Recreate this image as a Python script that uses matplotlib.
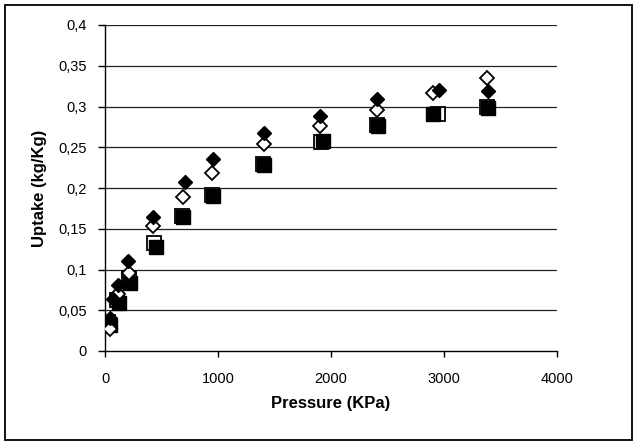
import matplotlib
matplotlib.use('Agg')
import matplotlib.pyplot as plt
from matplotlib.patches import Rectangle
from matplotlib.ticker import FuncFormatter

plt.rcParams['font.family'] = ['Liberation Sans', 'DejaVu Sans']

# Pressure (KPa) / uptake (kg/Kg) for the four series
p_d_fill = [40, 70, 115, 205, 425, 710, 960, 1410, 1900, 2410, 2960, 3390]
u_d_fill = [0.040, 0.064, 0.081, 0.110, 0.165, 0.207, 0.235, 0.268, 0.288, 0.309, 0.320, 0.319]

p_d_open = [40, 115, 210, 425, 690, 950, 1410, 1900, 2410, 2900, 3380]
u_d_open = [0.027, 0.070, 0.096, 0.153, 0.189, 0.219, 0.254, 0.276, 0.296, 0.316, 0.335]

p_s_fill = [40, 120, 225, 450, 690, 955, 1410, 1930, 2420, 2900, 3390]
u_s_fill = [0.032, 0.059, 0.083, 0.128, 0.164, 0.190, 0.228, 0.258, 0.276, 0.291, 0.298]

p_s_open = [30, 110, 215, 430, 680, 945, 1400, 1910, 2410, 2945, 3380]
u_s_open = [0.036, 0.063, 0.090, 0.133, 0.166, 0.192, 0.229, 0.256, 0.277, 0.291, 0.299]

x_ticks = [0, 1000, 2000, 3000, 4000]
y_ticks = [0, 0.05, 0.1, 0.15, 0.2, 0.25, 0.3, 0.35, 0.4]

fig = plt.figure(figsize=(6.37, 4.45), dpi=100)
ax = fig.add_axes([105 / 637, 94 / 445, 452 / 637, 326 / 445])

# linhas horizontais
for yv in y_ticks[1:]:
    ax.axhline(yv, color='#222222', lw=0.9, zorder=0)

ax.plot(p_s_open, u_s_open, 's', ms=10, mfc='white', mec='black', mew=1.3, ls='none', zorder=2)
ax.plot(p_s_fill, u_s_fill, 's', ms=10, mfc='black', mec='black', mew=1.0, ls='none', zorder=3)
ax.plot(p_d_open, u_d_open, 'D', ms=7.5, mfc='white', mec='black', mew=1.3, ls='none', zorder=4)
ax.plot(p_d_fill, u_d_fill, 'D', ms=7.5, mfc='black', mec='black', mew=1.0, ls='none', zorder=5)

ax.set_xlim(0, 4000)
ax.set_ylim(0, 0.4)
ax.set_xticks(x_ticks)
ax.set_yticks(y_ticks)
ax.yaxis.set_major_formatter(FuncFormatter(lambda v, pos: ('%g' % round(v, 2)).replace('.', ',')))

for s in ['top', 'right']:
    ax.spines[s].set_visible(False)
for s in ['left', 'bottom']:
    ax.spines[s].set_color('black')
    ax.spines[s].set_linewidth(1.0)

ax.tick_params(axis='x', direction='out', length=4, width=1, pad=11, labelsize=10.5)
ax.tick_params(axis='y', direction='out', length=5, width=1, pad=8, labelsize=10.5)

ax.set_xlabel('Pressure (KPa)', fontsize=12, fontweight='bold', va='center')
ax.xaxis.set_label_coords(0.5, -0.16)
ax.set_ylabel('Uptake (kg/Kg)', fontsize=12, fontweight='bold', va='center', ha='center')
ax.yaxis.set_label_coords(-0.144, 0.5)

# moldura externa
fig.patches.append(Rectangle((5 / 637, 5 / 445), 627 / 637, 435 / 445, fill=False,
                             ec='black', lw=1.3, transform=fig.transFigure))

fig.savefig('out.png', dpi=100)
